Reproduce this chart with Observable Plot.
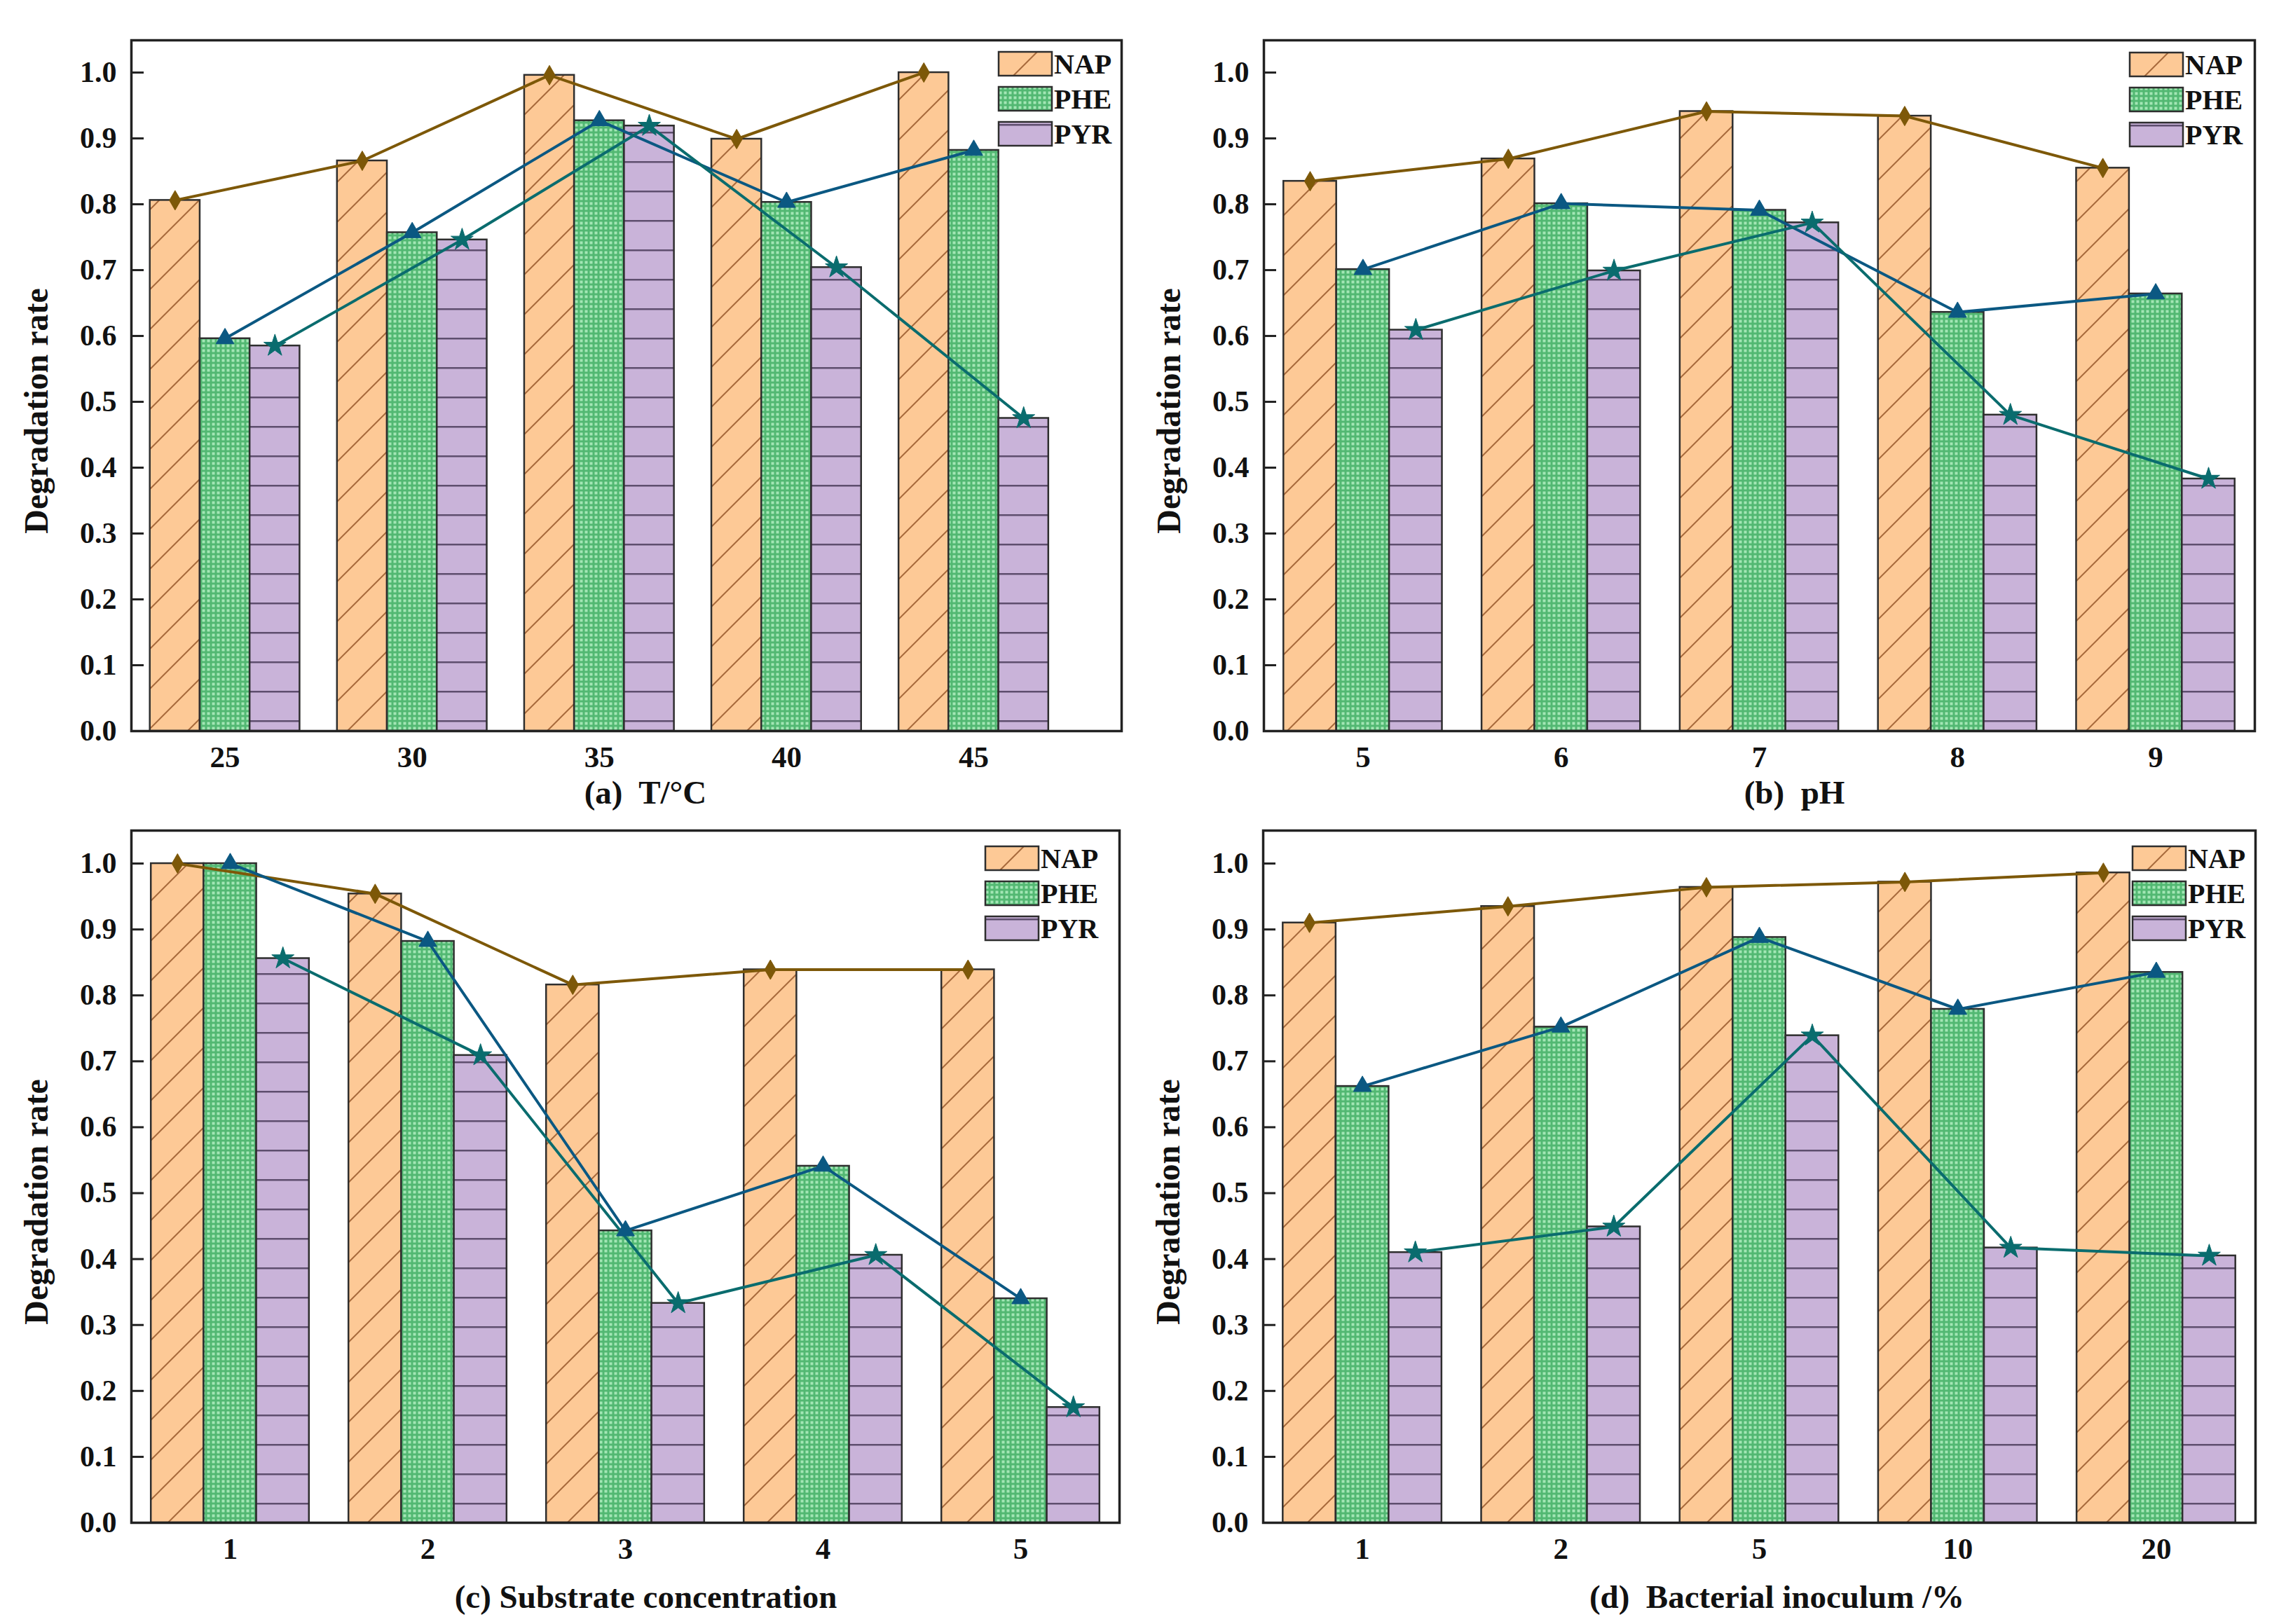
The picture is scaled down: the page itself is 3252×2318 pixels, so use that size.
<!DOCTYPE html>
<html><head><meta charset="utf-8">
<script src="https://cdn.jsdelivr.net/npm/d3@7"></script>
<script src="https://cdn.jsdelivr.net/npm/@observablehq/plot@0.6"></script>
<style>
body{margin:0;background:#fff;}
#wrap{position:relative;width:3252px;height:2318px;overflow:hidden;background:#fff;font-family:"Liberation Serif","Times New Roman",serif;}
.panel{position:absolute;}
</style></head><body>
<svg width="0" height="0" style="position:absolute">
<defs>
<pattern id="patNAP" patternUnits="userSpaceOnUse" width="57" height="57">
 <rect width="57" height="57" fill="#FDC996"/>
 <path d="M0,57L57,0M-10,10L10,-10M47,67L67,47" stroke="#A86A3C" stroke-width="2" fill="none"/>
</pattern>
<pattern id="patPHE" patternUnits="userSpaceOnUse" width="7" height="7">
 <rect width="7" height="7" fill="#52B872"/>
 <rect x="1.5" y="1.5" width="4" height="4" fill="#A3E6B5"/>
</pattern>
<pattern id="patPYR" patternUnits="userSpaceOnUse" width="42" height="42">
 <rect width="42" height="42" fill="#C9B3D9"/>
 <rect y="20" width="42" height="2.5" fill="#5E4E6E"/>
</pattern>
</defs></svg>
<div id="wrap"></div>
<script>
// ---- data ----
const seriesNames = ["NAP", "PHE", "PYR"];
const yTickValues = [0.0, 0.1, 0.2, 0.3, 0.4, 0.5, 0.6, 0.7, 0.8, 0.9, 1.0];

const labelsA = ["25", "30", "35", "40", "45"];
const napA = [0.806, 0.866, 0.996, 0.899, 1.000];
const pheA = [0.596, 0.757, 0.927, 0.803, 0.882];
const pyrA = [0.585, 0.746, 0.919, 0.704, 0.475];

const labelsB = ["5", "6", "7", "8", "9"];
const napB = [0.835, 0.869, 0.941, 0.934, 0.855];
const pheB = [0.701, 0.801, 0.791, 0.636, 0.664];
const pyrB = [0.609, 0.699, 0.772, 0.480, 0.383];

const labelsC = ["1", "2", "3", "4", "5"];
const napC = [1.000, 0.954, 0.816, 0.839, 0.839];
const pheC = [1.000, 0.882, 0.443, 0.541, 0.340];
const pyrC = [0.856, 0.709, 0.333, 0.406, 0.175];

const labelsD = ["1", "2", "5", "10", "20"];
const napD = [0.910, 0.935, 0.964, 0.972, 0.986];
const pheD = [0.662, 0.752, 0.888, 0.779, 0.835];
const pyrD = [0.410, 0.449, 0.739, 0.417, 0.405];

const titles = ["(a)  T/\u00B0C", "(b)  pH", "(c) Substrate concentration", "(d)  Bacterial inoculum /%"];

// ---- styling ----
const lineColors = {NAP: "#7D5808", PHE: "#0B5882", PYR: "#0A6C6E"};
const symbols = {NAP: "diamond", PHE: "triangle", PYR: "star"};
const symR = {NAP: 8.5, PHE: 9.5, PYR: 10};
const FONT = '"Liberation Serif","Times New Roman",serif';
const offsets = [-4/15, 0, 4/15];
const half = 2/15;

const panels = [
  {labels: labelsA, vals: [napA, pheA, pyrA], title: titles[0], left: 0, top: 0, mL: 187, mR: 26, mT: 57, mB: 116, xdom: [-0.5, 4.79], ydom: [0, 1.049], tdx: 27, tdy: 88, leg: [1424, 73]},
  {labels: labelsB, vals: [napB, pheB, pyrB], title: titles[1], left: 1626, top: 0, mL: 177, mR: 35, mT: 57, mB: 116, xdom: [-0.5, 4.5], ydom: [0, 1.049], tdx: 50, tdy: 88, leg: [3038, 74]},
  {labels: labelsC, vals: [napC, pheC, pyrC], title: titles[2], left: 0, top: 1159, mL: 187, mR: 29, mT: 26, mB: 145, xdom: [-0.5, 4.5], ydom: [0, 1.05], tdx: 29, tdy: 106, leg: [1405, 1207]},
  {labels: labelsD, vals: [napD, pheD, pyrD], title: titles[3], left: 1626, top: 1159, mL: 176, mR: 34, mT: 26, mB: 145, xdom: [-0.5, 4.5], ydom: [0, 1.05], tdx: 25, tdy: 106, leg: [3042, 1207]}
];

const wrap = document.getElementById("wrap");
const W = 1626, H = 1159;

panels.forEach(p => {
  const rows = p.labels.map((lab, i) => ({i, lab, NAP: p.vals[0][i], PHE: p.vals[1][i], PYR: p.vals[2][i]}));
  const frameW = W - p.mL - p.mR;
  const marks = [];
  seriesNames.forEach((s, k) => {
    marks.push(Plot.rect(rows, {
      x1: d => d.i + offsets[k] - half, x2: d => d.i + offsets[k] + half,
      y1: 0, y2: s, fill: `url(#pat${s})`, stroke: "#2e2e2e", strokeWidth: 2.5
    }));
  });
  seriesNames.forEach((s, k) => {
    marks.push(Plot.line(rows, {x: d => d.i + offsets[k], y: s, stroke: lineColors[s], strokeWidth: 4}));
  });
  seriesNames.forEach((s, k) => {
    marks.push(Plot.dot(rows, {x: d => d.i + offsets[k], y: s, symbol: symbols[s], r: symR[s], fill: lineColors[s], stroke: lineColors[s], strokeWidth: 1}));
  });
  marks.push(Plot.tickY(yTickValues, {y: d => d, stroke: "#222", strokeWidth: 3, insetRight: frameW - 18}));
  marks.push(Plot.frame({stroke: "#222", strokeWidth: 3.5}));
  marks.push(Plot.axisY(yTickValues, {tickSize: 0, tickPadding: 21, tickFormat: d => d.toFixed(1), fontSize: 42, fontWeight: "bold", fill: "#111", label: null}));
  marks.push(Plot.axisX([0, 1, 2, 3, 4], {tickSize: 0, tickPadding: 21, tickFormat: i => p.labels[i], fontSize: 43, fontWeight: "bold", fill: "#111", label: null}));
  marks.push(Plot.text([p.title], {text: d => d, frameAnchor: "bottom", textAnchor: "middle", lineAnchor: "middle", dx: p.tdx, dy: p.tdy, fontSize: 47, fontWeight: "bold", fill: "#111"}));
  marks.push(Plot.text(["Degradation rate"], {text: d => d, frameAnchor: "left", textAnchor: "middle", lineAnchor: "middle", rotate: -90, dx: -135, dy: 36, fontSize: 48, fontWeight: "bold", fill: "#111"}));

  const chart = Plot.plot({
    width: W, height: H,
    marginLeft: p.mL, marginRight: p.mR, marginTop: p.mT, marginBottom: p.mB,
    x: {domain: p.xdom},
    y: {domain: p.ydom},
    style: {fontFamily: FONT, fontSize: "42px", fontWeight: "bold", background: "transparent", color: "#111", overflow: "visible"},
    marks
  });
  chart.classList.add("panel");
  chart.style.left = p.left + "px";
  chart.style.top = p.top + "px";
  wrap.appendChild(chart);

  // legend overlay
  const leg = d3.select(wrap).append("svg")
    .attr("class", "panel")
    .attr("width", 200).attr("height", 160)
    .style("left", p.leg[0] + "px").style("top", p.leg[1] + "px")
    .style("overflow", "visible");
  seriesNames.forEach((s, k) => {
    leg.append("rect").attr("x", 1).attr("y", k * 50 + 1).attr("width", 76).attr("height", 34)
      .attr("fill", `url(#pat${s})`).attr("stroke", "#2e2e2e").attr("stroke-width", 2.5);
    leg.append("text").attr("x", 80).attr("y", k * 50 + 18).attr("dominant-baseline", "central")
      .attr("font-family", FONT).attr("font-weight", "bold").attr("font-size", 40).attr("fill", "#111").text(s);
  });
});
</script>
</body></html>
